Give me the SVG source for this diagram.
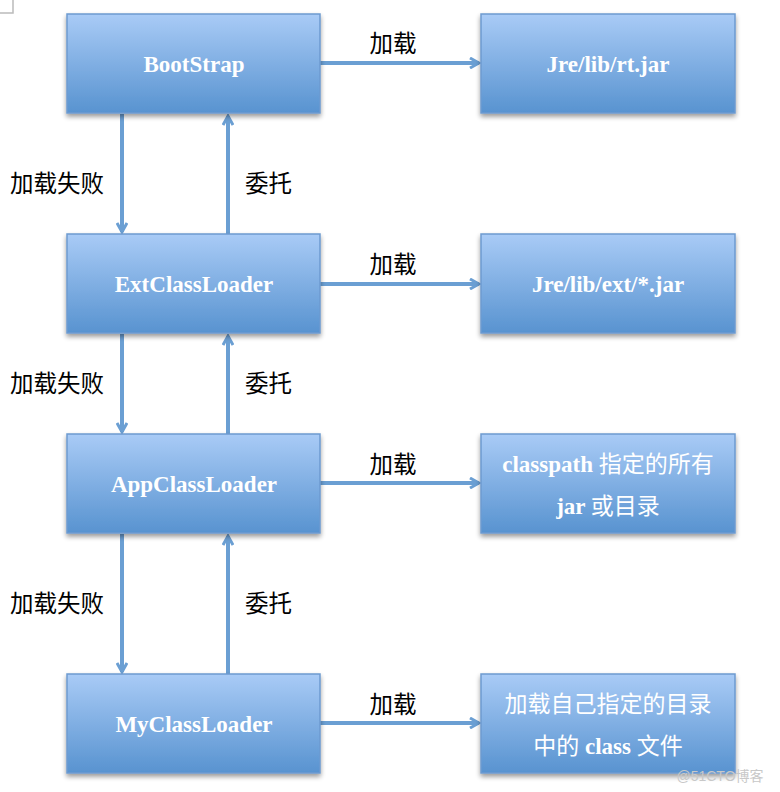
<svg xmlns="http://www.w3.org/2000/svg" width="780" height="792" viewBox="0 0 780 792">
<defs>
<linearGradient id="g" x1="0" y1="0" x2="0" y2="1">
<stop offset="0" stop-color="#a9cbf6"/>
<stop offset="1" stop-color="#5893d0"/>
</linearGradient>
<filter id="sh" x="-10%" y="-10%" width="120%" height="130%">
<feGaussianBlur in="SourceAlpha" stdDeviation="2.5"/>
<feOffset dx="0" dy="3" result="b"/>
<feComponentTransfer><feFuncA type="linear" slope="0.4"/></feComponentTransfer>
<feMerge><feMergeNode/><feMergeNode in="SourceGraphic"/></feMerge>
</filter>
<marker id="ah" viewBox="0 0 12 12" refX="10" refY="6" markerWidth="12" markerHeight="12" markerUnits="userSpaceOnUse" orient="auto">
<path d="M1,1 L10,6 L1,11" fill="none" stroke="#6b9fd3" stroke-width="3"/>
</marker>
</defs>
<style>
.box{fill:url(#g);stroke:#6d9ad0;stroke-width:1.5;filter:url(#sh)}
.bt{font-family:"Liberation Serif","Noto Sans CJK SC",serif;font-size:23px;font-weight:bold;fill:#fff;text-anchor:middle}
.cj{font-weight:normal}
.lb{font-family:"Noto Sans CJK SC",sans-serif;font-size:23.5px;fill:#000}
.c{stroke:#6b9fd3;stroke-width:4;fill:none;marker-end:url(#ah)}
</style>
<path d="M13,0 V13 H0" fill="none" stroke="#bbb" stroke-width="1.5"/>
<g id="connectors">
<line class="c" x1="320" y1="63" x2="479" y2="63"/>
<line class="c" x1="320" y1="284" x2="479" y2="284"/>
<line class="c" x1="320" y1="483" x2="479" y2="483"/>
<line class="c" x1="320" y1="723" x2="479" y2="723"/>
<line class="c" x1="122" y1="114" x2="122" y2="232"/>
<line class="c" x1="228" y1="234" x2="228" y2="116"/>
<line class="c" x1="122" y1="334" x2="122" y2="432"/>
<line class="c" x1="228" y1="434" x2="228" y2="336"/>
<line class="c" x1="122" y1="534" x2="122" y2="672"/>
<line class="c" x1="228" y1="674" x2="228" y2="536"/>
<text class="lb" x="393" y="52" text-anchor="middle">加载</text>
<text class="lb" x="393" y="273" text-anchor="middle">加载</text>
<text class="lb" x="393" y="473" text-anchor="middle">加载</text>
<text class="lb" x="393" y="713" text-anchor="middle">加载</text>
<text class="lb" x="10" y="192">加载失败</text>
<text class="lb" x="10" y="392">加载失败</text>
<text class="lb" x="10" y="612">加载失败</text>
<text class="lb" x="245" y="192">委托</text>
<text class="lb" x="245" y="392">委托</text>
<text class="lb" x="245" y="612">委托</text>
</g>
<g id="bootstrap"><rect class="box" x="67" y="14" width="253" height="99"/><text class="bt" x="194" y="72">BootStrap</text></g>
<g id="ext"><rect class="box" x="67" y="234" width="253" height="99"/><text class="bt" x="194" y="292">ExtClassLoader</text></g>
<g id="app"><rect class="box" x="67" y="434" width="253" height="99"/><text class="bt" x="194" y="492">AppClassLoader</text></g>
<g id="my"><rect class="box" x="67" y="674" width="253" height="99"/><text class="bt" x="194" y="732">MyClassLoader</text></g>
<g id="rt"><rect class="box" x="481" y="14" width="254" height="99"/><text class="bt" x="608" y="72">Jre/lib/rt.jar</text></g>
<g id="extjar"><rect class="box" x="481" y="234" width="254" height="99"/><text class="bt" x="608" y="292">Jre/lib/ext/*.jar</text></g>
<g id="cp"><rect class="box" x="481" y="434" width="254" height="99"/><text class="bt" x="608" y="472">classpath <tspan class="cj">指定的所有</tspan></text><text class="bt" x="608" y="514">jar <tspan class="cj">或目录</tspan></text></g>
<g id="custom"><rect class="box" x="481" y="674" width="254" height="99"/><text class="bt" x="608" y="712"><tspan class="cj">加载自己指定的目录</tspan></text><text class="bt" x="608" y="754"><tspan class="cj">中的 </tspan>class<tspan class="cj"> 文件</tspan></text></g>
<text x="720" y="781" text-anchor="middle" font-family="Liberation Sans,Noto Sans CJK SC,sans-serif" font-size="14" fill="#c8c8c8">@51CTO博客</text>
</svg>
